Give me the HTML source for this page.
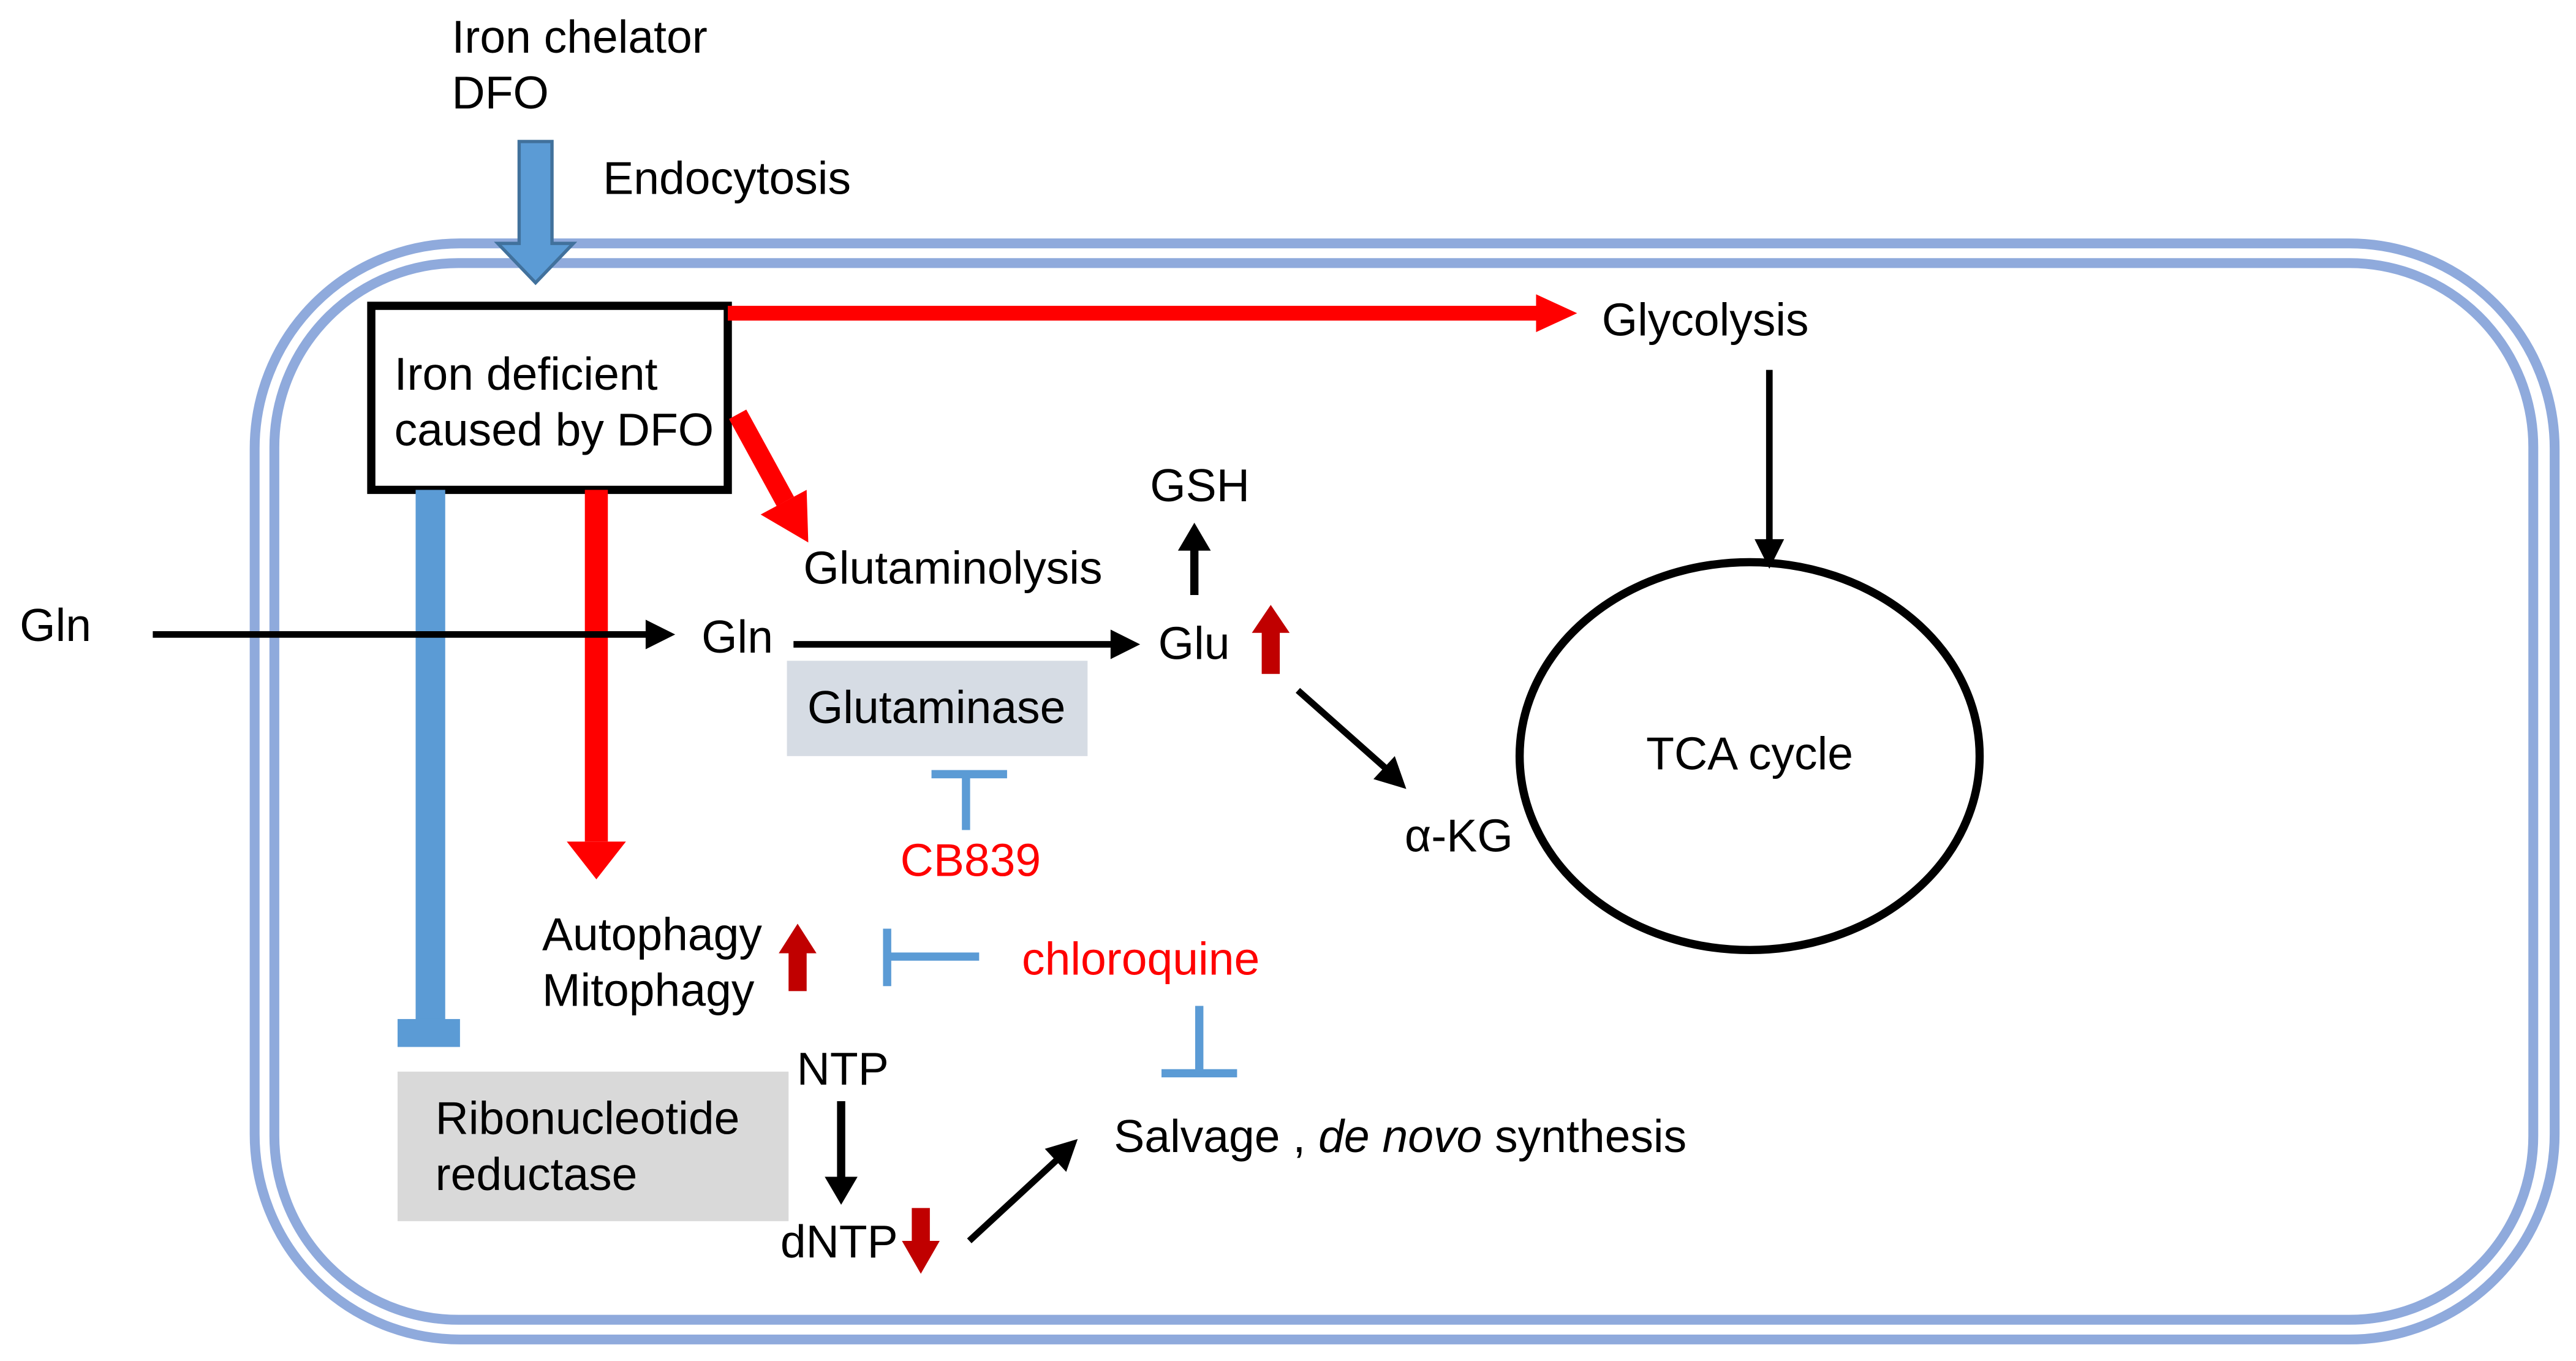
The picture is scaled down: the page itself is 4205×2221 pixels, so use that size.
<!DOCTYPE html>
<html><head><meta charset="utf-8"><style>
html,body{margin:0;padding:0;background:#fff;}
svg{display:block;}
text{font-family:"Liberation Sans",Arial,sans-serif;font-size:28px;fill:#000;}
</style></head><body>
<svg width="4205" height="2221" viewBox="0 0 1568 828" xmlns="http://www.w3.org/2000/svg">
<rect width="1568" height="828" fill="#fff"/>
<rect x="155" y="148" width="1400" height="667" rx="125" ry="125" fill="none" stroke="#8faadc" stroke-width="6"/>
<rect x="167" y="160" width="1375" height="643" rx="112" ry="112" fill="none" stroke="#8faadc" stroke-width="6"/>
<text x="275" y="32">Iron chelator</text>
<text x="275" y="66">DFO</text>
<text x="367" y="118">Endocytosis</text>
<polygon points="316,86 336,86 336,148 349,148 326,172 303,148 316,148" fill="#5b9bd5" stroke="#41719c" stroke-width="2"/>
<rect x="226" y="186" width="217" height="112" fill="#fff" stroke="#000" stroke-width="5"/>
<text x="240" y="237">Iron deficient</text>
<text x="240" y="271">caused by DFO</text>
<rect x="443" y="186" width="494" height="9" fill="#ff0000"/>
<polygon points="935,179 960,190.5 935,202" fill="#ff0000"/>
<text x="975" y="204">Glycolysis</text>
<line x1="1077" y1="225" x2="1077" y2="330" stroke="#000" stroke-width="4"/>
<polygon points="1068,328 1086,328 1077,346" fill="#000"/>
<ellipse cx="1065" cy="460" rx="140" ry="118" fill="none" stroke="#000" stroke-width="5"/>
<text x="1065" y="468" text-anchor="middle">TCA cycle</text>
<line x1="449" y1="252" x2="478" y2="305" stroke="#ff0000" stroke-width="12"/>
<polygon points="463,313 491,298 492,330" fill="#ff0000"/>
<text x="489" y="355">Glutaminolysis</text>
<rect x="356" y="298" width="14" height="214" fill="#ff0000"/>
<polygon points="345,512 381,512 363,535" fill="#ff0000"/>
<rect x="253" y="298" width="18" height="324" fill="#5b9bd5"/>
<rect x="242" y="620" width="38" height="17" fill="#5b9bd5"/>
<text x="12" y="390">Gln</text>
<line x1="93" y1="386" x2="395" y2="386" stroke="#000" stroke-width="4"/>
<polygon points="393,377 411,386 393,395" fill="#000"/>
<text x="427" y="397">Gln</text>
<line x1="483" y1="392" x2="678" y2="392" stroke="#000" stroke-width="4"/>
<polygon points="676,383 694,392 676,401" fill="#000"/>
<text x="705" y="401">Glu</text>
<rect x="479" y="402" width="183" height="58" fill="#d6dce4"/>
<text x="570" y="440" text-anchor="middle">Glutaminase</text>
<text x="700" y="305">GSH</text>
<line x1="727" y1="362" x2="727" y2="333" stroke="#000" stroke-width="5"/>
<polygon points="717,335 737,335 727,318" fill="#000"/>
<rect x="768" y="383" width="11" height="27" fill="#c00000"/>
<polygon points="762,385 785,385 773.5,368" fill="#c00000"/>
<line x1="790" y1="420" x2="843" y2="467" stroke="#000" stroke-width="4"/>
<polygon points="836,474 849,460 856,480" fill="#000"/>
<text x="855" y="518">α-KG</text>
<line x1="588" y1="470" x2="588" y2="505" stroke="#5b9bd5" stroke-width="5"/>
<line x1="567" y1="471" x2="613" y2="471" stroke="#5b9bd5" stroke-width="5"/>
<text x="548" y="533" style="fill:#ff0000">CB839</text>
<text x="330" y="578">Autophagy</text>
<text x="330" y="612">Mitophagy</text>
<rect x="480" y="578" width="11" height="25" fill="#c00000"/>
<polygon points="474,580 497,580 485.5,562" fill="#c00000"/>
<line x1="540" y1="582" x2="596" y2="582" stroke="#5b9bd5" stroke-width="5"/>
<line x1="540" y1="565" x2="540" y2="600" stroke="#5b9bd5" stroke-width="5"/>
<text x="622" y="593" style="fill:#ff0000">chloroquine</text>
<line x1="730" y1="612" x2="730" y2="653" stroke="#5b9bd5" stroke-width="5"/>
<line x1="707" y1="653" x2="753" y2="653" stroke="#5b9bd5" stroke-width="5"/>
<rect x="242" y="652" width="238" height="91" fill="#d9d9d9"/>
<text x="265" y="690">Ribonucleotide</text>
<text x="265" y="724">reductase</text>
<text x="485" y="660">NTP</text>
<line x1="512" y1="670" x2="512" y2="718" stroke="#000" stroke-width="5"/>
<polygon points="502,716 522,716 512,733" fill="#000"/>
<text x="475" y="765">dNTP</text>
<rect x="555" y="735" width="11" height="22" fill="#c00000"/>
<polygon points="549,755 572,755 560.5,775" fill="#c00000"/>
<line x1="590" y1="755" x2="643" y2="706" stroke="#000" stroke-width="4"/>
<polygon points="636,699 656,693 649,713" fill="#000"/>
<text x="678" y="701">Salvage , <tspan font-style="italic">de novo</tspan> synthesis</text>
</svg>
</body></html>
